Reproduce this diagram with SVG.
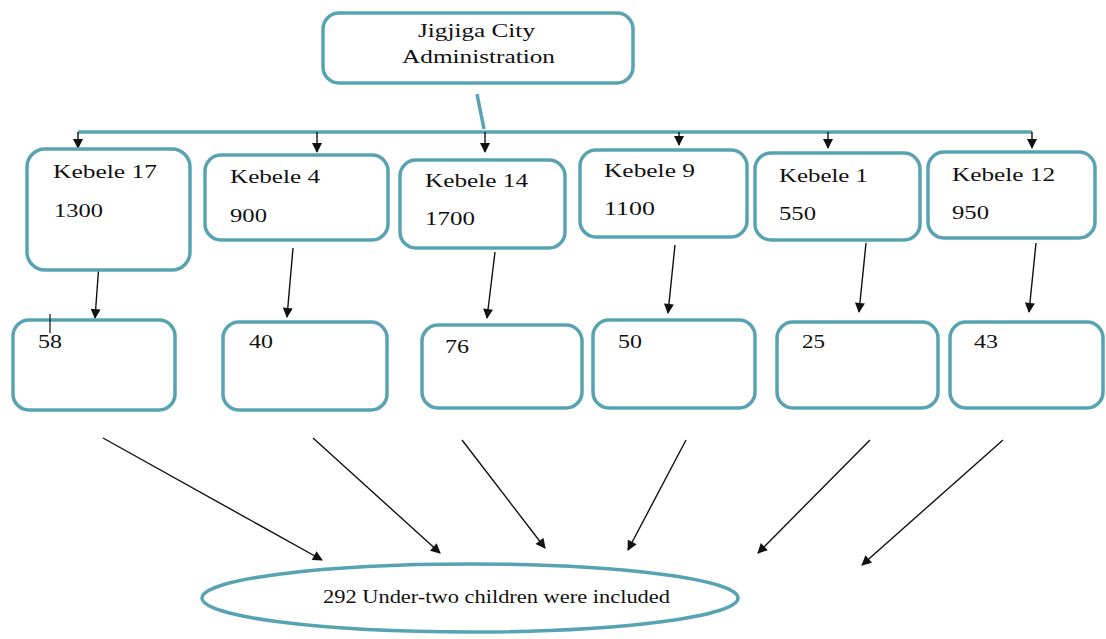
<svg xmlns="http://www.w3.org/2000/svg" width="1106" height="639" viewBox="0 0 1106 639">
<defs>
<style>
.box{fill:#fff;stroke:#58a3b3;stroke-width:3.5}
.t{font-family:'Liberation Serif','DejaVu Serif','Times New Roman',serif;font-size:18px;fill:#111}
.teal{fill:none;stroke:#58a3b3;stroke-width:3.5}
.arr{stroke:#111;stroke-width:1.4;fill:none;marker-end:url(#ah)}
</style>
<marker id="ah" viewBox="0 0 10 10" refX="9" refY="5" markerWidth="11" markerHeight="10" markerUnits="userSpaceOnUse" orient="auto">
<path d="M0,0 L10,5 L0,10 z" fill="#111"/>
</marker>
</defs>
<rect width="1106" height="639" fill="#fff"/>

<g id="connectors">
<path class="teal" d="M477,94 L484,129"/>
<path class="teal" d="M78,132 L1032,132"/>
<line class="arr" x1="78" y1="132" x2="78" y2="148"/>
<line class="arr" x1="317" y1="132" x2="317" y2="152"/>
<line class="arr" x1="485" y1="132" x2="485" y2="152"/>
<line class="arr" x1="679" y1="132" x2="679" y2="145"/>
<line class="arr" x1="828" y1="132" x2="828" y2="148"/>
<line class="arr" x1="1032" y1="132" x2="1032" y2="148"/>
<line class="arr" x1="100" y1="250" x2="95" y2="318"/>
<line class="arr" x1="293" y1="248" x2="287" y2="317"/>
<line class="arr" x1="495" y1="252" x2="487" y2="318"/>
<line class="arr" x1="675" y1="245" x2="668" y2="313"/>
<line class="arr" x1="866" y1="243" x2="859" y2="312"/>
<line class="arr" x1="1036" y1="243" x2="1029" y2="312"/>
<line class="arr" x1="103" y1="438" x2="322" y2="560"/>
<line class="arr" x1="313" y1="438" x2="440" y2="553"/>
<line class="arr" x1="462" y1="440" x2="545" y2="548"/>
<line class="arr" x1="686" y1="440" x2="628" y2="550"/>
<line class="arr" x1="870" y1="440" x2="758" y2="553"/>
<line class="arr" x1="1003" y1="440" x2="862" y2="565"/>
</g>

<g id="city">
<rect class="box" x="323" y="13" width="310" height="70" rx="16"/>
<text class="t" font-family="Liberation Serif, serif" x="418" y="37" textLength="117" lengthAdjust="spacingAndGlyphs">Jigjiga City</text>
<text class="t" font-family="Liberation Serif, serif" x="402" y="63" textLength="153" lengthAdjust="spacingAndGlyphs">Administration</text>
</g>

<g id="k17">
<rect class="box" x="27" y="149" width="163" height="121" rx="18"/>
<text class="t" x="53" y="178" textLength="104" lengthAdjust="spacingAndGlyphs">Kebele 17</text>
<text class="t" x="54" y="217" textLength="49" lengthAdjust="spacingAndGlyphs">1300</text>
</g>
<g id="k4">
<rect class="box" x="205" y="155" width="183" height="85" rx="16"/>
<text class="t" x="230" y="183" textLength="90" lengthAdjust="spacingAndGlyphs">Kebele 4</text>
<text class="t" x="230" y="222" textLength="37" lengthAdjust="spacingAndGlyphs">900</text>
</g>
<g id="k14">
<rect class="box" x="400" y="160" width="165" height="88" rx="16"/>
<text class="t" x="425" y="187" textLength="103" lengthAdjust="spacingAndGlyphs">Kebele 14</text>
<text class="t" x="425" y="225" textLength="50" lengthAdjust="spacingAndGlyphs">1700</text>
</g>
<g id="k9">
<rect class="box" x="580" y="150" width="167" height="87" rx="16"/>
<text class="t" x="604" y="177" textLength="91" lengthAdjust="spacingAndGlyphs">Kebele 9</text>
<text class="t" x="604" y="215" textLength="51" lengthAdjust="spacingAndGlyphs">1100</text>
</g>
<g id="k1">
<rect class="box" x="755" y="153" width="165" height="87" rx="16"/>
<text class="t" x="779" y="182" textLength="89" lengthAdjust="spacingAndGlyphs">Kebele 1</text>
<text class="t" x="779" y="220" textLength="37" lengthAdjust="spacingAndGlyphs">550</text>
</g>
<g id="k12">
<rect class="box" x="928" y="152" width="167" height="86" rx="16"/>
<text class="t" x="952" y="181" textLength="103" lengthAdjust="spacingAndGlyphs">Kebele 12</text>
<text class="t" x="952" y="219" textLength="37" lengthAdjust="spacingAndGlyphs">950</text>
</g>

<g id="n58">
<rect class="box" x="13" y="320" width="162" height="90" rx="16"/>
<text class="t" x="38" y="348" textLength="24" lengthAdjust="spacingAndGlyphs">58</text>
<line x1="50" y1="314" x2="50" y2="333" stroke="#111" stroke-width="1.2"/>
</g>
<g id="n40">
<rect class="box" x="223" y="322" width="164" height="88" rx="16"/>
<text class="t" x="249" y="348" textLength="24" lengthAdjust="spacingAndGlyphs">40</text>
</g>
<g id="n76">
<rect class="box" x="422" y="325" width="160" height="83" rx="16"/>
<text class="t" x="445" y="353" textLength="24" lengthAdjust="spacingAndGlyphs">76</text>
</g>
<g id="n50">
<rect class="box" x="593" y="320" width="162" height="88" rx="16"/>
<text class="t" x="618" y="348" textLength="24" lengthAdjust="spacingAndGlyphs">50</text>
</g>
<g id="n25">
<rect class="box" x="777" y="322" width="161" height="86" rx="16"/>
<text class="t" x="802" y="348" textLength="23" lengthAdjust="spacingAndGlyphs">25</text>
</g>
<g id="n43">
<rect class="box" x="950" y="322" width="153" height="86" rx="16"/>
<text class="t" x="974" y="348" textLength="24" lengthAdjust="spacingAndGlyphs">43</text>
</g>

<g id="total">
<ellipse class="box" cx="470" cy="598" rx="268" ry="34"/>
<text class="t" x="323" y="603" textLength="347" lengthAdjust="spacingAndGlyphs">292 Under-two children were included</text>
</g>
</svg>
